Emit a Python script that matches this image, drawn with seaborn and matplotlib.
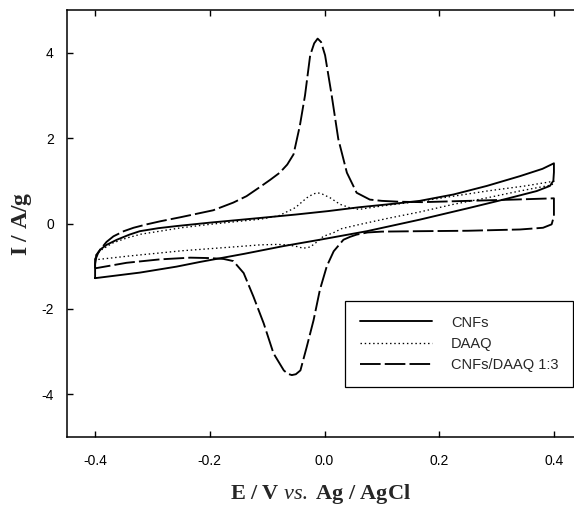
import matplotlib
matplotlib.use("Agg")
import matplotlib.pyplot as plt
import seaborn as sns
import pandas as pd

# ---------------- data ----------------
# CNFs: forward (anodic) scan then reverse scan, E in V, I in A/g
cnf_E = [-0.400, -0.400, -0.398, -0.395, -0.391, -0.380, -0.362, -0.340, -0.322,
         -0.290, -0.258, -0.200, -0.112, -0.050, 0.006, 0.060, 0.119, 0.166,
         0.225, 0.283, 0.341, 0.380, 0.400,
         0.400, 0.399, 0.393, 0.370, 0.312, 0.254, 0.166, 0.074, -0.008,
         -0.072, -0.140, -0.217, -0.258, -0.322, -0.400]
cnf_I = [-1.28, -0.95, -0.80, -0.70, -0.61, -0.50, -0.38, -0.26, -0.18,
         -0.11, -0.06, 0.02, 0.13, 0.21, 0.29, 0.38, 0.46, 0.53,
         0.68, 0.88, 1.11, 1.28, 1.41,
         1.20, 1.00, 0.88, 0.76, 0.56, 0.37, 0.09, -0.18, -0.38,
         -0.53, -0.71, -0.90, -1.01, -1.15, -1.28]

# DAAQ
daaq_E = [-0.400, -0.400, -0.397, -0.388, -0.370, -0.345, -0.320, -0.287, -0.250,
          -0.200, -0.150, -0.112, -0.080, -0.051, -0.031, -0.020, -0.012, -0.004,
          0.010, 0.027, 0.044, 0.060, 0.100, 0.166, 0.225, 0.283, 0.350, 0.400,
          0.400, 0.395, 0.340, 0.283, 0.225, 0.166, 0.110, 0.062, 0.030, 0.015,
          -0.002, -0.015, -0.025, -0.037, -0.048, -0.065, -0.083, -0.112, -0.150,
          -0.200, -0.250, -0.287, -0.340, -0.400]
daaq_I = [-0.85, -0.78, -0.70, -0.61, -0.46, -0.34, -0.25, -0.18, -0.10,
          -0.02, 0.05, 0.10, 0.18, 0.37, 0.60, 0.69, 0.72, 0.69,
          0.60, 0.45, 0.37, 0.33, 0.41, 0.52, 0.64, 0.76, 0.88, 0.99,
          0.94, 0.90, 0.76, 0.60, 0.45, 0.27, 0.12, -0.02, -0.12, -0.22,
          -0.30, -0.45, -0.55, -0.58, -0.54, -0.50, -0.49, -0.50, -0.54,
          -0.59, -0.64, -0.69, -0.76, -0.85]

# CNFs/DAAQ 1:3
mix_E = [-0.400, -0.400, -0.397, -0.391, -0.380, -0.368, -0.350, -0.333, -0.310,
         -0.287, -0.250, -0.229, -0.194, -0.159, -0.136, -0.112, -0.095, -0.078,
         -0.065, -0.054, -0.043, -0.034, -0.025, -0.018, -0.012, -0.006, 0.001,
         0.0125, 0.024, 0.039, 0.056, 0.079, 0.100, 0.130, 0.170, 0.250, 0.330,
         0.400,
         0.400, 0.396, 0.381, 0.341, 0.250, 0.166, 0.100, 0.075, 0.056, 0.045,
         0.033, 0.016, 0.004, -0.008, -0.019, -0.031, -0.042, -0.050, -0.057,
         -0.064, -0.071, -0.089, -0.106, -0.124, -0.141, -0.159, -0.176, -0.200,
         -0.234, -0.287, -0.345, -0.400]
mix_I = [-1.05, -0.85, -0.72, -0.61, -0.43, -0.30, -0.18, -0.10, -0.02,
         0.05, 0.15, 0.21, 0.31, 0.49, 0.64, 0.86, 1.02, 1.19,
         1.38, 1.62, 2.29, 3.00, 3.94, 4.22, 4.33, 4.25, 3.94,
         3.00, 1.98, 1.19, 0.72, 0.56, 0.53, 0.51, 0.50, 0.53, 0.56,
         0.59,
         0.17, -0.02, -0.10, -0.14, -0.17, -0.18, -0.19, -0.21, -0.26, -0.31,
         -0.38, -0.65, -1.00, -1.55, -2.26, -2.89, -3.44, -3.53, -3.55,
         -3.52, -3.44, -3.04, -2.34, -1.71, -1.16, -0.88, -0.83, -0.81,
         -0.80, -0.84, -0.92, -1.05]

labels = ["CNFs", "DAAQ", "CNFs/DAAQ 1:3"]
x_ticks = [-0.4, -0.2, 0.0, 0.2, 0.4]
y_ticks = [-4, -2, 0, 2, 4]

# ---------------- plotting ----------------
sns.set_style("ticks")
plt.rcParams["font.family"] = ["Liberation Sans", "DejaVu Sans"]
plt.rcParams["mathtext.fontset"] = "custom"
plt.rcParams["mathtext.rm"] = "Liberation Serif"
plt.rcParams["mathtext.bf"] = "Liberation Serif:bold"
plt.rcParams["mathtext.it"] = "Liberation Serif:italic"

W, H = 574, 508
fig = plt.figure(figsize=(W / 100, H / 100), dpi=100)
ax = fig.add_axes([67 / W, 1 - 437 / H, (W - 67) / W, (437 - 10) / H])

df_cnf = pd.DataFrame({"E": cnf_E, "I": cnf_I})
df_daaq = pd.DataFrame({"E": daaq_E, "I": daaq_I})
df_mix = pd.DataFrame({"E": mix_E, "I": mix_I})

sns.lineplot(data=df_cnf, x="E", y="I", sort=False, estimator=None, ax=ax,
             color="black", linewidth=1.35, label=labels[0])
sns.lineplot(data=df_daaq, x="E", y="I", sort=False, estimator=None, ax=ax,
             color="black", linewidth=0.95, linestyle=(0, (1.1, 2.1)), label=labels[1])
sns.lineplot(data=df_mix, x="E", y="I", sort=False, estimator=None, ax=ax,
             color="black", linewidth=1.35, linestyle=(0, (11, 2.2)), label=labels[2])

ax.set_xlim(-0.449, 0.435)
ax.set_ylim(-5, 5)
ax.set_xticks(x_ticks)
ax.set_xticklabels(["-0.4", "-0.2", "0.0", "0.2", "0.4"])
ax.set_yticks(y_ticks)
ax.set_yticklabels([str(v) for v in y_ticks])
ax.tick_params(direction="in", top=True, right=False, length=4.5, width=1.0,
               labelsize=10, colors="black")
ax.tick_params(axis="x", pad=12)
ax.tick_params(axis="y", pad=9.5)
for side in ["left", "bottom", "top"]:
    ax.spines[side].set_linewidth(1.1)
    ax.spines[side].set_color("black")
ax.spines["right"].set_visible(False)

ax.set_xlabel(r"$\mathbf{E\ /\ V}\ \mathit{vs.}\ \mathbf{Ag\ /\ AgCl}$",
              fontsize=16, labelpad=10)
ax.set_ylabel(r"$\mathbf{I\ /\ A/g}$", fontsize=17, labelpad=5)

leg = ax.legend(loc="upper left", bbox_to_anchor=(0.549, 0.3185), frameon=True,
                fancybox=False, shadow=False, fontsize=10.5, handlelength=4.95,
                handletextpad=1.3, borderpad=1.0, labelspacing=0.5,
                borderaxespad=0)
leg.get_frame().set_edgecolor("black")
leg.get_frame().set_linewidth(0.9)
leg.get_frame().set_alpha(1)

fig.savefig("out.png", dpi=100)
